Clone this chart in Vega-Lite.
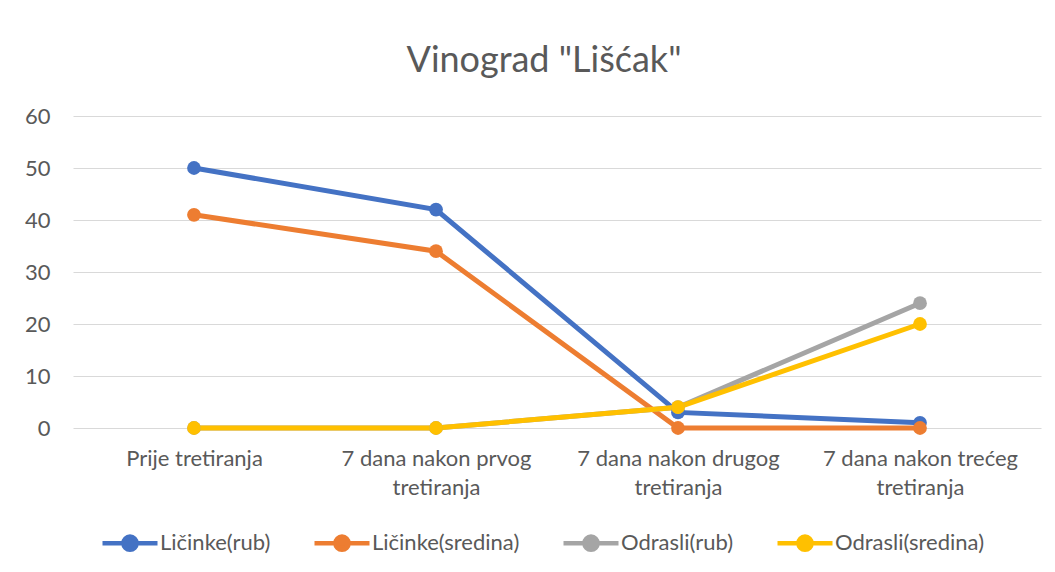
{
  "$schema": "https://vega.github.io/schema/vega-lite/v6.json",
  "width": 968,
  "height": 312,
  "autosize": "none",
  "padding": {"left": 73, "top": 116, "right": 14, "bottom": 144},
  "background": "white",
  "title": {
    "text": "Vinograd \"Lišćak\"",
    "font": "Lato",
    "fontSize": 36,
    "fontWeight": "normal",
    "color": "#595959",
    "anchor": "middle",
    "dx": -13,
    "offset": 25
  },
  "data": {
    "values": [
      {"faza": "Prije tretiranja", "serija": "Ličinke(rub)", "broj": 50},
      {"faza": "7 dana nakon prvog tretiranja", "serija": "Ličinke(rub)", "broj": 42},
      {"faza": "7 dana nakon drugog tretiranja", "serija": "Ličinke(rub)", "broj": 3},
      {"faza": "7 dana nakon trećeg tretiranja", "serija": "Ličinke(rub)", "broj": 1},
      {"faza": "Prije tretiranja", "serija": "Ličinke(sredina)", "broj": 41},
      {"faza": "7 dana nakon prvog tretiranja", "serija": "Ličinke(sredina)", "broj": 34},
      {"faza": "7 dana nakon drugog tretiranja", "serija": "Ličinke(sredina)", "broj": 0},
      {"faza": "7 dana nakon trećeg tretiranja", "serija": "Ličinke(sredina)", "broj": 0},
      {"faza": "Prije tretiranja", "serija": "Odrasli(rub)", "broj": 0},
      {"faza": "7 dana nakon prvog tretiranja", "serija": "Odrasli(rub)", "broj": 0},
      {"faza": "7 dana nakon drugog tretiranja", "serija": "Odrasli(rub)", "broj": 4},
      {"faza": "7 dana nakon trećeg tretiranja", "serija": "Odrasli(rub)", "broj": 24},
      {"faza": "Prije tretiranja", "serija": "Odrasli(sredina)", "broj": 0},
      {"faza": "7 dana nakon prvog tretiranja", "serija": "Odrasli(sredina)", "broj": 0},
      {"faza": "7 dana nakon drugog tretiranja", "serija": "Odrasli(sredina)", "broj": 4},
      {"faza": "7 dana nakon trećeg tretiranja", "serija": "Odrasli(sredina)", "broj": 20}
    ]
  },
  "encoding": {
    "x": {
      "field": "faza",
      "type": "nominal",
      "sort": null,
      "scale": {"type": "point", "padding": 0.5},
      "axis": {
        "title": null,
        "domain": false,
        "ticks": false,
        "grid": false,
        "labelAngle": 0,
        "labelFont": "Lato",
        "labelFontSize": 22,
        "labelColor": "#595959",
        "labelPadding": 20,
        "labelLineHeight": 29,
        "labelLimit": 0,
        "labelExpr": "indexof(datum.label, '7 dana') == 0 ? [substring(datum.label, 0, lastindexof(datum.label, ' ')), substring(datum.label, lastindexof(datum.label, ' ') + 1)] : datum.label"
      }
    },
    "y": {
      "field": "broj",
      "type": "quantitative",
      "scale": {"domain": [0, 60], "nice": false},
      "axis": {
        "title": null,
        "domain": false,
        "ticks": false,
        "values": [0, 10, 20, 30, 40, 50, 60],
        "grid": true,
        "gridColor": "#D9D9D9",
        "gridWidth": 1,
        "labelFont": "Lato",
        "labelFontSize": 22,
        "labelColor": "#595959",
        "labelPadding": 23
      }
    },
    "color": {
      "field": "serija",
      "type": "nominal",
      "sort": ["Ličinke(rub)", "Ličinke(sredina)", "Odrasli(rub)", "Odrasli(sredina)"],
      "scale": {
        "domain": ["Ličinke(rub)", "Ličinke(sredina)", "Odrasli(rub)", "Odrasli(sredina)"],
        "range": ["#4472C4", "#ED7D31", "#A5A5A5", "#FFC000"]
      },
      "legend": {
        "title": null,
        "orient": "none",
        "direction": "horizontal",
        "legendX": 27,
        "legendY": 397,
        "columnPadding": 34,
        "labelLimit": 0,
        "symbolType": "M-1,0L1,0M0.24,0A0.24,0.24,0,1,1,-0.24,0A0.24,0.24,0,1,1,0.24,0Z",
        "symbolSize": 3025,
        "symbolStrokeWidth": 4.5,
        "labelFont": "Lato",
        "labelFontSize": 22,
        "labelColor": "#595959",
        "labelOffset": 0
      }
    }
  },
  "layer": [
    {"mark": {"type": "line", "strokeWidth": 5}},
    {"mark": {"type": "point", "filled": true, "size": 190, "opacity": 1}}
  ],
  "config": {"view": {"stroke": null}}
}
